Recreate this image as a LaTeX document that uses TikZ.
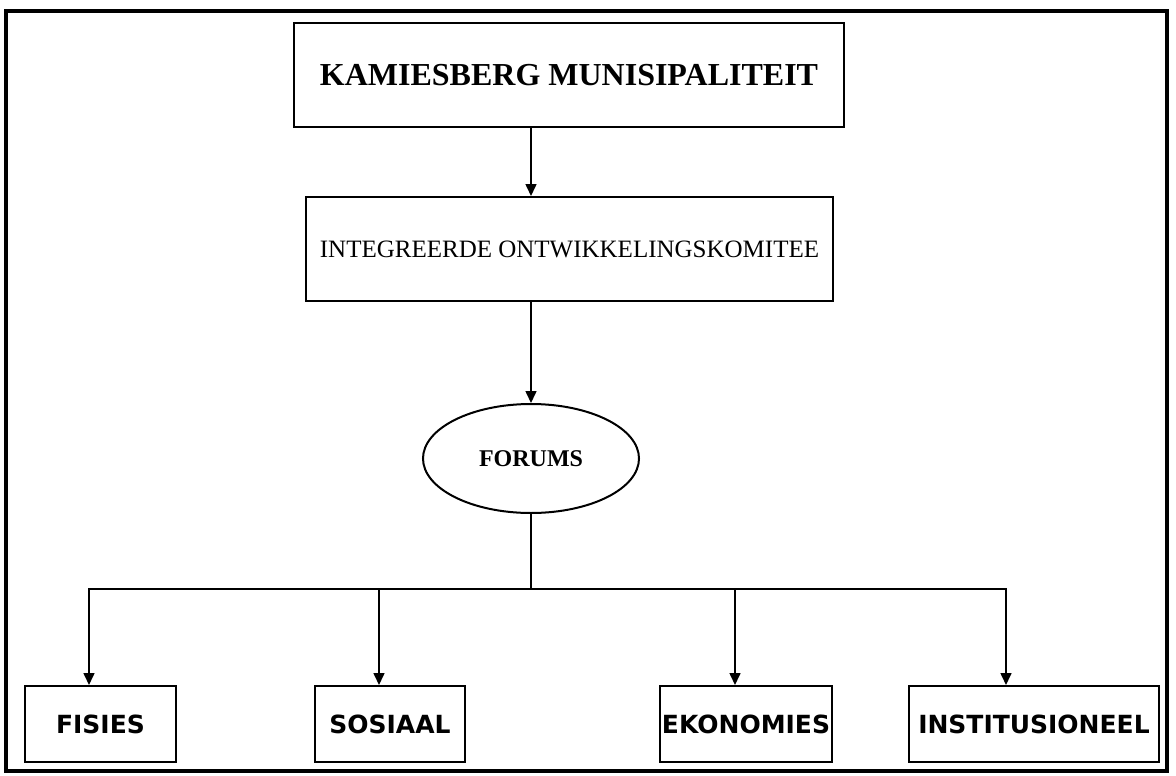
\documentclass[tikz,border=0pt]{standalone}
\usepackage{fontspec}
\setmainfont{Liberation Serif}
\newfontfamily\areafont{DejaVu Sans}
\usetikzlibrary{arrows.meta,shapes.geometric}

\tikzset{
    box/.style={draw, line width=2pt, inner sep=0pt},
    arr/.style={line width=1.6pt, -{Triangle[length=12pt,width=11pt]}},
    wire/.style={line width=1.6pt, line cap=rect},
    area/.style={box, minimum height=76pt, font=\areafont\bfseries\fontsize{25}{30}\selectfont}
}

\begin{document}
\begin{tikzpicture}[x=1pt, y=-1pt]
        \useasboundingbox (0, 0) rectangle (1176, 776);
        \draw[line width=3.5pt] (6, 11) rectangle (1167, 771);

        \node[box, minimum width=550pt, minimum height=104pt, font=\bfseries\fontsize{32}{38}\selectfont] (mun) at (569, 75) {KAMIESBERG MUNISIPALITEIT};
        \node[box, minimum width=527pt, minimum height=104pt, font=\fontsize{25}{30}\selectfont] (kom) at (569.5, 249) {INTEGREERDE ONTWIKKELINGSKOMITEE};
        \node[box, ellipse, minimum width=216pt, minimum height=109pt, font=\bfseries\fontsize{24}{29}\selectfont] (for) at (531, 458.5) {FORUMS};

        \node[area, minimum width=151pt] (fis) at (100.5, 724) {FISIES};
        \node[area, minimum width=150pt] (sos) at (390, 724) {SOSIAAL};
        \node[area, minimum width=172pt] (eko) at (746, 724) {EKONOMIES};
        \node[area, minimum width=250pt] (ins) at (1034, 724) {INSTITUSIONEEL};

        \draw[arr] (mun.south -| for.north) -- (kom.north -| for.north);
        \draw[arr] (kom.south -| for.north) -- (for.north);

        \coordinate (b1) at (89, 589);
        \coordinate (b2) at (379, 589);
        \coordinate (b3) at (735, 589);
        \coordinate (b4) at (1006, 589);
        \draw[wire] (for.south) -- (for.south |- b1);
        \draw[wire] (b1) -- (b4);
        \foreach \b/\n in {b1/fis, b2/sos, b3/eko, b4/ins}
            \draw[arr] (\b) -- (\b |- \n.north);
    \end{tikzpicture}
\end{document}
